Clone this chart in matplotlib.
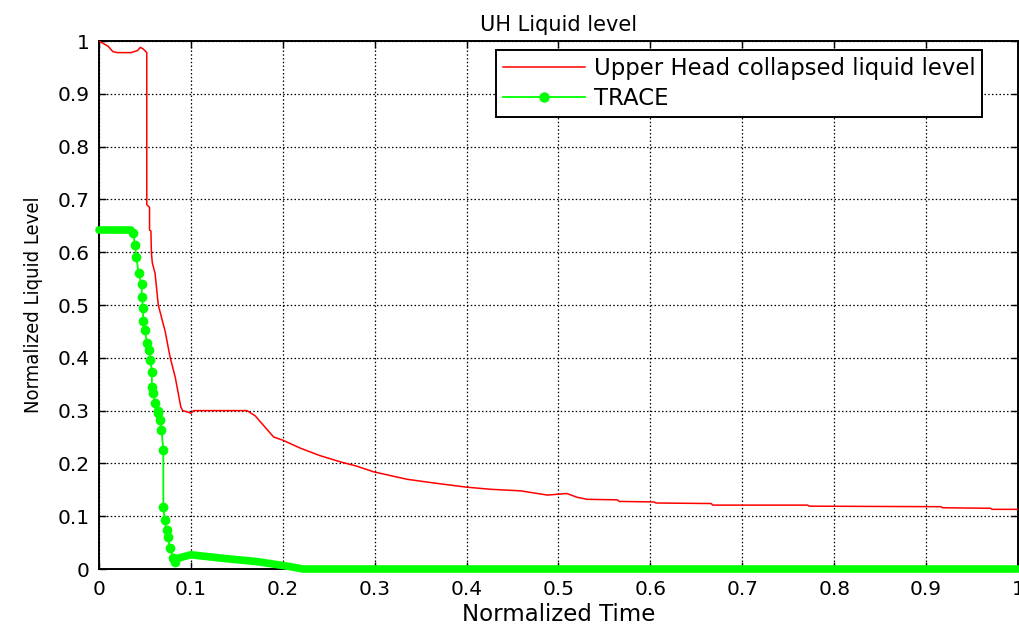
import matplotlib
matplotlib.use("Agg")
import matplotlib.pyplot as plt

RED, GREEN = "#ff0000", "#00ff00"

# upper head collapsed liquid level (normalized)
uh_t = [0.0, 0.005, 0.01, 0.015, 0.02, 0.035, 0.042, 0.045, 0.048, 0.052,
        0.052, 0.055, 0.055, 0.0565, 0.057, 0.058, 0.061, 0.0645, 0.072,
        0.0775, 0.083, 0.089, 0.091, 0.097, 0.1, 0.103, 0.161, 0.17, 0.18,
        0.19, 0.2, 0.219, 0.24, 0.2625, 0.28, 0.299, 0.335, 0.364, 0.40,
        0.426, 0.459, 0.488, 0.509, 0.52, 0.531, 0.564, 0.566, 0.604, 0.606,
        0.666, 0.668, 0.771, 0.773, 0.916, 0.918, 0.97, 0.972, 1.0]
uh_v = [1.0, 0.995, 0.99, 0.98, 0.978, 0.978, 0.982, 0.988, 0.985, 0.978,
        0.69, 0.685, 0.642, 0.64, 0.60, 0.58, 0.56, 0.50, 0.45,
        0.40, 0.363, 0.307, 0.300, 0.297, 0.295, 0.300, 0.300, 0.29, 0.27,
        0.25, 0.244, 0.229, 0.215, 0.203, 0.195, 0.184, 0.170, 0.163, 0.155,
        0.151, 0.148, 0.140, 0.143, 0.136, 0.132, 0.131, 0.128, 0.127, 0.125,
        0.124, 0.121, 0.121, 0.119, 0.118, 0.116, 0.115, 0.113, 0.113]

# TRACE: densely sampled stretches (drawn as a solid band of markers)
trace_head_t = [0.0, 0.035]
trace_head_v = [0.642, 0.642]
trace_tail_t = [0.085, 0.1, 0.135, 0.172, 0.208, 0.222, 1.0]
trace_tail_v = [0.02, 0.027, 0.0202, 0.014, 0.0045, 0.0, 0.0]
# TRACE: sparser samples during the drain-down
trace_t = [0.0375, 0.039, 0.0408, 0.043, 0.0465, 0.0465, 0.048, 0.048, 0.05,
           0.052, 0.054, 0.056, 0.0575, 0.0575, 0.059, 0.061, 0.0646, 0.0646,
           0.0665, 0.068, 0.070, 0.070, 0.0715, 0.0735, 0.075, 0.077, 0.081,
           0.083]
trace_v = [0.636, 0.614, 0.59, 0.56, 0.54, 0.516, 0.494, 0.47, 0.453,
           0.428, 0.415, 0.396, 0.374, 0.345, 0.333, 0.314, 0.30, 0.295,
           0.282, 0.263, 0.225, 0.118, 0.093, 0.074, 0.061, 0.04, 0.021,
           0.014]

ticks = [0.0, 0.1, 0.2, 0.3, 0.4, 0.5, 0.6, 0.7, 0.8, 0.9, 1.0]
tick_labels = ["0", "0.1", "0.2", "0.3", "0.4", "0.5", "0.6", "0.7", "0.8", "0.9", "1"]

plt.rcParams["font.family"] = ["DejaVu Sans"]

fig = plt.figure(figsize=(10.19, 6.26), dpi=100)
ax = fig.add_axes([0.09715, 0.09105, 0.90186, 0.84345])

ax.plot(uh_t, uh_v, color=RED, lw=1.1, label="Upper Head collapsed liquid level", zorder=3)

full_t = trace_head_t + trace_t + trace_tail_t
full_v = trace_head_v + trace_v + trace_tail_v
ax.plot(full_t, full_v, color=GREEN, lw=1.3, clip_on=False, zorder=4)
for bt, bv in ((trace_head_t, trace_head_v), (trace_tail_t, trace_tail_v)):
    ax.plot(bt, bv, color=GREEN, lw=5.5, solid_capstyle="round",
            solid_joinstyle="round", clip_on=False, zorder=4)
ax.plot(trace_t, trace_v, ls="none", marker="o", ms=6, color=GREEN,
        mec=GREEN, clip_on=False, zorder=4)
# legend proxy
ax.plot([], [], color=GREEN, lw=1.3, marker="o", ms=6.5, label="TRACE")

ax.set_xlim(0, 1)
ax.set_ylim(0, 1)
ax.set_xticks(ticks)
ax.set_xticklabels(tick_labels)
ax.set_yticks(ticks)
ax.set_yticklabels(tick_labels)
ax.tick_params(direction="in", length=5, width=1, top=True, right=True,
               labelsize=14.5, pad=7, colors="black")
ax.tick_params(axis="x", pad=8)
ax.grid(True, color="black", ls=(0, (1.2, 1.8)), lw=0.9)
for sp in ax.spines.values():
    sp.set_linewidth(1.4)
    sp.set_color("black")

ax.set_title("UH Liquid level", fontsize=15, pad=7)
ax.set_xlabel("Normalized Time", fontsize=16.5, labelpad=3)
ax.set_ylabel("Normalized Liquid Level", fontsize=14.5, fontstretch="condensed",
              labelpad=10)

leg = ax.legend(loc="upper right", bbox_to_anchor=(0.961, 0.983), fontsize=16.4,
                fancybox=False, framealpha=1, edgecolor="black", handlelength=3.6,
                borderaxespad=0, borderpad=0.3, labelspacing=0.32, handletextpad=0.4)
leg.get_frame().set_linewidth(1.4)

fig.savefig("out.png", dpi=100)
